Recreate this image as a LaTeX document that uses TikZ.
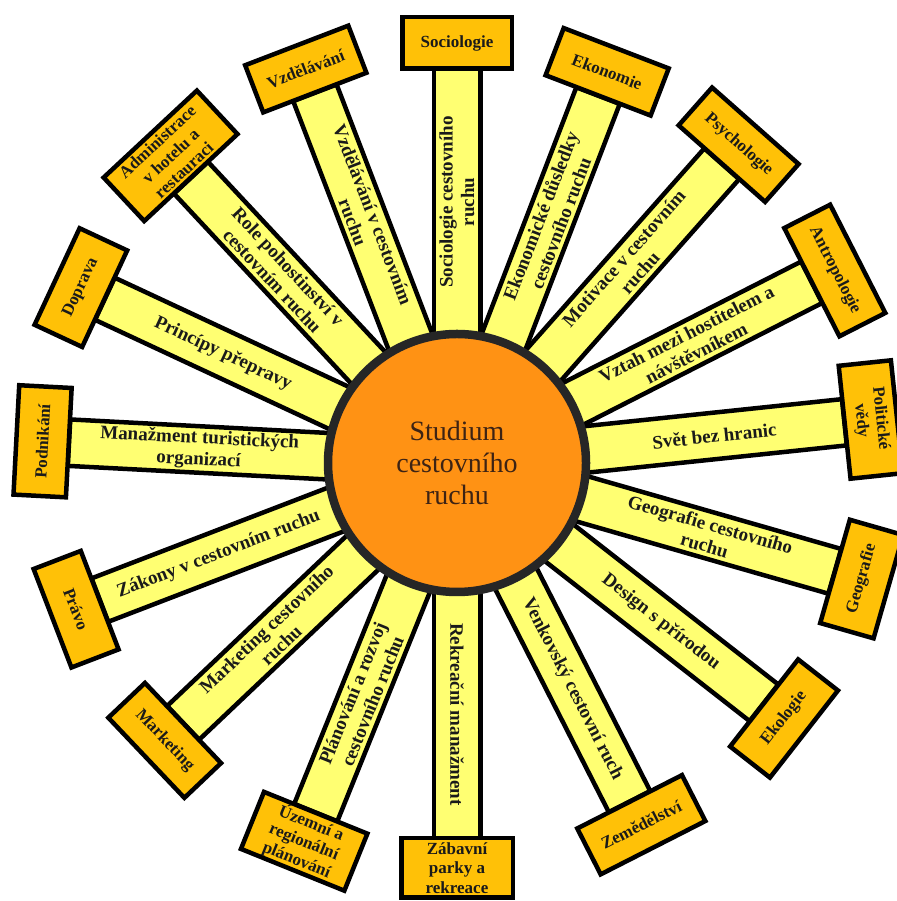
\documentclass[tikz,border=0pt]{standalone}
\usepackage{fontspec}
\setmainfont{Liberation Serif}
\usetikzlibrary{calc}
\definecolor{spokefill}{HTML}{FFFF72}
\definecolor{boxfill}{HTML}{FFC107}
\definecolor{hubfill}{HTML}{FF9214}
\definecolor{hubline}{HTML}{262626}
\definecolor{hubtext}{HTML}{3D2314}
\definecolor{inktext}{HTML}{1A1A1A}
\tikzset{
  spokebar/.style={draw=black, line width=4.5pt, fill=spokefill, inner sep=0pt, align=center, text=inktext, font=\bfseries\fontsize{19}{21.5}\selectfont},
  leafbox/.style={draw=black, line width=4.5pt, fill=boxfill, inner sep=0pt, align=center, text=inktext, font=\bfseries\fontsize{17}{19.5}\selectfont},
  hub/.style={circle, draw=hubline, line width=8.5pt, fill=hubfill, minimum size=258pt, inner sep=0pt, align=center, text=hubtext, font=\fontsize{28}{32}\selectfont}
}
\newcommand{\Ray}[7]{%
  \pgfmathsetmacro{\RayA}{#2}%
  \pgfmathsetmacro{\RayS}{ifthenelse(\RayA>90.5,\RayA-180,ifthenelse(\RayA<-90.5,\RayA+180,\RayA))}%
  \pgfmathsetmacro{\RayB}{ifthenelse(\RayA>=0,\RayA-90,\RayA+90)}%
  \pgfmathsetmacro{\RayO}{#3-#5/2+2}%
  \pgfmathsetmacro{\RayM}{(\RayO+128)/2}%
  \pgfmathsetmacro{\RayL}{\RayO-128}%
  \node[spokebar, rotate=\RayS, minimum width=\RayL, minimum height=46.5] (#1s) at ($(C)+(\RayA:\RayM)$) {#7};
  \node[leafbox, rotate=\RayB, minimum width=#4-4.5, minimum height=#5-4.5] (#1) at ($(C)+(\RayA:#3)$) {#6};
}
\begin{document}
\begin{tikzpicture}[x=1pt,y=1pt]
\path[use as bounding box, fill=white] (0,0) rectangle (896,901);
\coordinate (C) at (457,438);
\Ray{soc}{90}{420}{114}{56}{Sociologie}{Sociologie cestovního\\ruchu}
\Ray{eko}{69}{419}{117}{55}{Ekonomie}{Ekonomické důsledky\\cestovního ruchu}
\Ray{psy}{48.5}{425}{120}{55}{Psychologie}{Motivace v cestovním\\ruchu}
\Ray{ant}{27}{424}{126}{56}{Antropologie}{Vztah mezi hostitelem a\\návštěvníkem}
\Ray{pol}{6}{416}{118}{57}{Politické\\vědy}{Svět bez hranic}
\Ray{geo}{-16}{421}{112}{60}{Geografie}{Geografie cestovního\\ruchu}
\Ray{ekl}{-38}{415}{115}{55}{Ekologie}{Design s přírodou}
\Ray{zem}{-63}{406}{122}{56}{Zemědělství}{Venkovský cestovní ruch}
\Ray{zab}{-90}{405}{116}{64}{Zábavní\\parky a\\rekreace}{Rekreační manažment}
\Ray{uze}{-112}{408}{116}{66}{Územní a\\regionální\\plánování}{Plánování a rozvoj\\cestovního ruchu}
\Ray{mar}{-136.5}{403}{115}{55}{Marketing}{Marketing cestovního\\ruchu}
\Ray{pra}{-159}{408}{110}{55}{Právo}{Zákony v cestovním ruchu}
\Ray{pod}{177}{415}{114}{57}{Podnikání}{Manažment turistických\\organizací}
\Ray{dop}{155}{415}{111}{57}{Doprava}{Princípy přepravy}
\Ray{adm}{133}{420}{132}{64}{Administrace\\v hotelu a\\restauraci}{Role pohostinství v\\cestovním ruchu}
\Ray{vzd}{111}{422}{115}{55}{Vzdělávání}{Vzdělávání v cestovním\\ruchu}
\node[hub] (hub) at (C) {Studium\\cestovního\\ruchu};
\end{tikzpicture}
\end{document}
